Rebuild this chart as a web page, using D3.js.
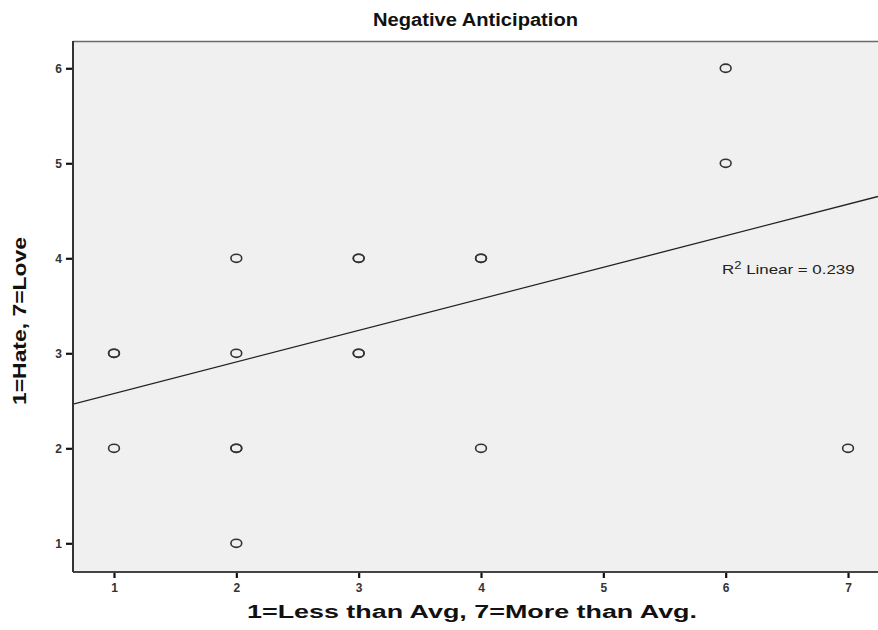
<!DOCTYPE html>
<html>
<head>
<meta charset="utf-8">
<script src="https://cdn.jsdelivr.net/npm/d3@7"></script>
<style>
  body { margin: 0; background: #fff; }
  svg { display: block; font-family: Arial, "Liberation Sans", sans-serif; }
</style>
</head>
<body>
<div id="chart"></div>
<script>
// scatter data (count = overlapping cases drawn on the same spot)
const xValues = [1, 1, 2, 2, 2, 2, 3, 3, 4, 4, 6, 6, 7];
const yValues = [3, 2, 4, 3, 2, 1, 4, 3, 4, 2, 6, 5, 2];
const counts  = [2, 1, 1, 1, 2, 1, 2, 2, 2, 1, 1, 1, 1];
const xTicks = [1, 2, 3, 4, 5, 6, 7];
const yTicks = [1, 2, 3, 4, 5, 6];
// fit line
const fitIntercept = 2.245;
const fitSlope = 0.332;
const rSquared = 0.239;

const config = {
  width: 878,
  height: 630,
  margin: { top: 41, right: 0, bottom: 58, left: 73 }
};
const width = config.width - config.margin.left - config.margin.right;
const height = config.height - config.margin.top - config.margin.bottom;

const svg = d3.select('#chart').append('svg')
  .attr('width', config.width)
  .attr('height', config.height);

const chart = svg.append('g')
  .attr('transform', `translate(${config.margin.left},${config.margin.top})`);

const x = d3.scaleLinear().domain([0.665, 7.245]).range([0, width]);
const y = d3.scaleLinear().domain([0.698, 6.287]).range([height, 0]);

// plot background + top border
chart.append('rect')
  .attr('x', 0).attr('y', 0)
  .attr('width', width + 10).attr('height', height)
  .attr('fill', '#f0f0f0');
chart.append('line')
  .attr('x1', 0).attr('x2', width + 10)
  .attr('y1', 0.5).attr('y2', 0.5)
  .attr('stroke', '#6a6a6a').attr('stroke-width', 1.5);

// regression line, clipped to the plot area
chart.append('clipPath').attr('id', 'plot-clip')
  .append('rect').attr('width', width).attr('height', height);
const x0 = x.domain()[0], x1 = x.domain()[1];
chart.append('line')
  .attr('clip-path', 'url(#plot-clip)')
  .attr('x1', x(x0)).attr('y1', y(fitIntercept + fitSlope * x0))
  .attr('x2', x(x1)).attr('y2', y(fitIntercept + fitSlope * x1))
  .attr('stroke', '#222').attr('stroke-width', 1.3);

// points
const points = [];
xValues.forEach((xv, i) => {
  for (let k = 0; k < counts[i]; k++) points.push({ x: xv, y: yValues[i] });
});
chart.selectAll('.pt')
  .data(points)
  .join('ellipse')
  .attr('class', 'pt')
  .attr('cx', d => x(d.x))
  .attr('cy', d => y(d.y))
  .attr('rx', 5.4)
  .attr('ry', 4.1)
  .attr('fill', 'none')
  .attr('stroke', '#333')
  .attr('stroke-width', 1.6);

// axes
const xAxis = d3.axisBottom(x).tickValues(xTicks).tickSize(6).tickPadding(5).tickFormat(d3.format('d'));
const yAxis = d3.axisLeft(y).tickValues(yTicks).tickSize(7).tickPadding(4).tickFormat(d3.format('d'));

const gx = chart.append('g').attr('transform', `translate(0,${height})`).call(xAxis);
const gy = chart.append('g').call(yAxis);

[gx, gy].forEach(g => {
  g.select('.domain').remove();
  g.selectAll('.tick line').attr('stroke', '#111').attr('stroke-width', 2.2);
  g.selectAll('.tick text')
    .attr('fill', '#333')
    .attr('font-size', 12)
    .attr('font-weight', 'bold')
    .attr('stroke', 'none');
});
gy.selectAll('.tick text').attr('dy', '0.35em');

chart.append('line')
  .attr('x1', 0).attr('x2', width + 10)
  .attr('y1', height).attr('y2', height)
  .attr('stroke', '#444').attr('stroke-width', 2);
chart.append('line')
  .attr('x1', 0).attr('x2', 0)
  .attr('y1', 0).attr('y2', height)
  .attr('stroke', '#333').attr('stroke-width', 2);

// R squared annotation (stretched horizontally like the source)
const r2 = chart.append('g')
  .attr('transform', `translate(${722 - config.margin.left},${274 - config.margin.top}) scale(1.3,1)`)
  .append('text')
  .attr('font-size', 13)
  .attr('fill', '#222');
r2.append('tspan').text('R');
r2.append('tspan').attr('dy', -5).attr('font-size', 10).text('2');
r2.append('tspan').attr('dy', 5).text(' Linear = ' + rSquared);

// titles
svg.append('text')
  .attr('x', 475.5).attr('y', 26)
  .attr('text-anchor', 'middle')
  .attr('font-size', 18).attr('font-weight', 'bold')
  .attr('fill', '#111')
  .attr('textLength', 205).attr('lengthAdjust', 'spacingAndGlyphs')
  .text('Negative Anticipation');

svg.append('text')
  .attr('x', 472).attr('y', 618)
  .attr('text-anchor', 'middle')
  .attr('font-size', 18).attr('font-weight', 'bold')
  .attr('fill', '#111')
  .attr('textLength', 450).attr('lengthAdjust', 'spacingAndGlyphs')
  .text('1=Less than Avg, 7=More than Avg.');

svg.append('text')
  .attr('transform', 'translate(26,321) rotate(-90)')
  .attr('text-anchor', 'middle')
  .attr('font-size', 18).attr('font-weight', 'bold')
  .attr('fill', '#111')
  .attr('textLength', 168).attr('lengthAdjust', 'spacingAndGlyphs')
  .text('1=Hate, 7=Love');
</script>
</body>
</html>
